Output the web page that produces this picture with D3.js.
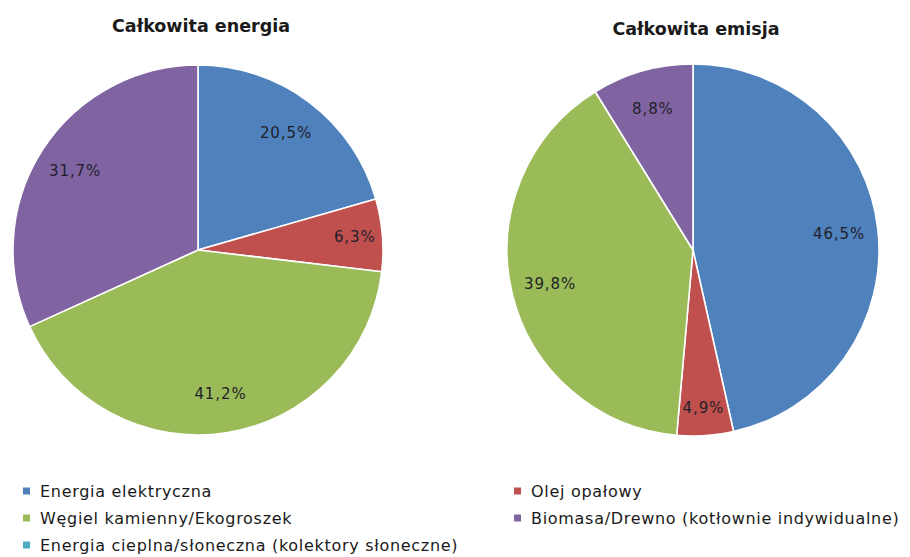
<!DOCTYPE html>
<html>
<head>
<meta charset="utf-8">
<script src="https://cdn.jsdelivr.net/npm/d3@7"></script>
<style>
  html, body { margin: 0; padding: 0; background: #fff; }
  svg { display: block; }
</style>
</head>
<body>
<svg id="chart" width="910" height="557"></svg>
<script>
// Energy sources (series order)
const categories = [
  "Energia elektryczna",
  "Olej opałowy",
  "Węgiel kamienny/Ekogroszek",
  "Biomasa/Drewno (kotłownie indywidualne)",
  "Energia cieplna/słoneczna (kolektory słoneczne)"
];
const colors = ["#4F81BD", "#C0504D", "#9BBB59", "#8064A2", "#4BACC6"];

// Shares in percent, same order as categories
const energyValues = [20.5, 6.3, 41.2, 31.7, 0];
const emissionValues = [46.5, 4.9, 39.8, 8.8, 0];

const chartTitles = ["Całkowita energia", "Całkowita emisja"];

const fontFamily = "'DejaVu Sans', Verdana, sans-serif";
const svg = d3.select("#chart");

const pies = [
  { title: chartTitles[0], values: energyValues, cx: 198, cy: 250, r: 185, titleX: 201, titleY: 32 },
  { title: chartTitles[1], values: emissionValues, cx: 693, cy: 250, r: 186, titleX: 696, titleY: 35 }
];

const fmt = v => d3.format(".1f")(v).replace(".", ",") + "%";

pies.forEach(p => {
  const data = categories.map((c, i) => ({ name: c, value: p.values[i], color: colors[i] }));
  const pie = d3.pie().sort(null).value(d => d.value);
  const arcs = pie(data).filter(a => a.data.value > 0);
  const arc = d3.arc().innerRadius(0).outerRadius(p.r);

  const g = svg.append("g").attr("transform", `translate(${p.cx},${p.cy})`);

  g.selectAll("path.slice")
    .data(arcs)
    .join("path")
    .attr("class", "slice")
    .attr("d", arc)
    .attr("fill", d => d.data.color)
    .attr("stroke", "#fff")
    .attr("stroke-width", 1.6)
    .attr("stroke-linejoin", "round");

  // Labels sit inside the slice; narrow slices push their label outward
  g.selectAll("text.lbl")
    .data(arcs)
    .join("text")
    .attr("class", "lbl")
    .attr("transform", d => {
      const span = d.endAngle - d.startAngle;
      const k = span < 0.45 ? 0.85 : 0.79;
      const a = (d.startAngle + d.endAngle) / 2;
      return `translate(${Math.sin(a) * p.r * k},${-Math.cos(a) * p.r * k})`;
    })
    .attr("text-anchor", "middle")
    .attr("dominant-baseline", "central")
    .attr("font-family", fontFamily)
    .attr("font-size", 15)
    .attr("letter-spacing", 0.9)
    .attr("fill", "#1f1f2a")
    .text(d => fmt(d.data.value));

  svg.append("text")
    .attr("x", p.titleX)
    .attr("y", p.titleY)
    .attr("text-anchor", "middle")
    .attr("font-family", fontFamily)
    .attr("font-weight", "bold")
    .attr("font-size", 17.5)
    .attr("fill", "#1a1a1a")
    .text(p.title);
});

// Legend: two columns, entries filled row by row
const legendCols = [23, 514];
const legendRows = [491, 518, 545];
const legend = svg.append("g");
categories.forEach((c, i) => {
  const col = i % 2, row = Math.floor(i / 2);
  const x = legendCols[col], y = legendRows[row];
  legend.append("rect")
    .attr("x", x).attr("y", y - 3.5)
    .attr("width", 7).attr("height", 7)
    .attr("fill", colors[i]);
  legend.append("text")
    .attr("x", x + 17).attr("y", y)
    .attr("dominant-baseline", "central")
    .attr("font-family", fontFamily)
    .attr("font-size", 16)
    .attr("letter-spacing", 0.7)
    .attr("fill", "#1a1a1a")
    .text(c);
});
</script>
</body>
</html>
